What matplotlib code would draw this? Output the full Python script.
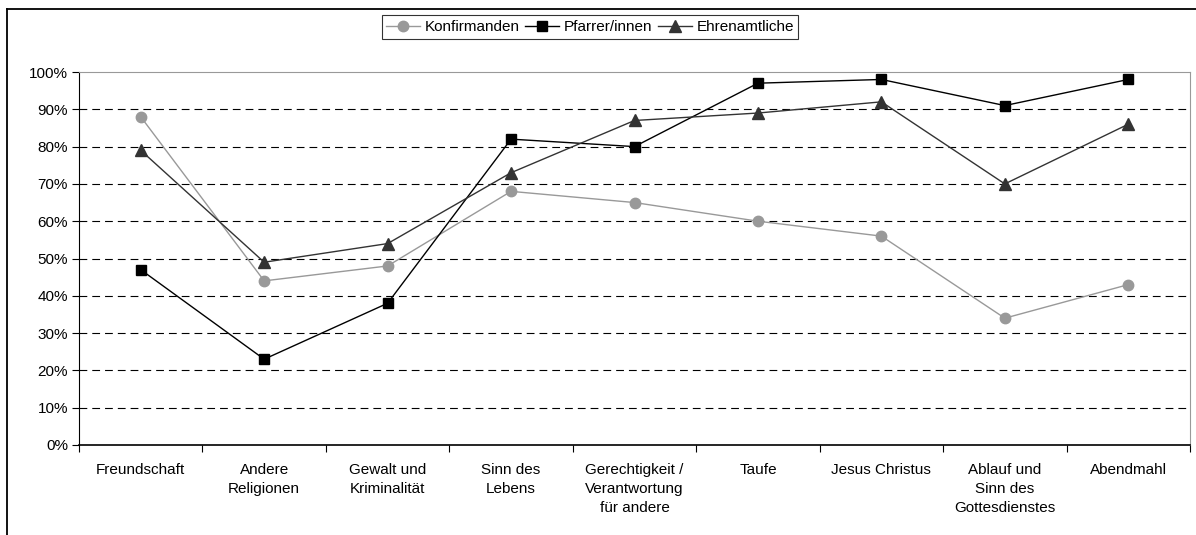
import matplotlib
matplotlib.use("Agg")
from matplotlib import pyplot as plt
from matplotlib.lines import Line2D
from matplotlib.ticker import FixedLocator, PercentFormatter

plt.rcParams['font.family'] = ['Liberation Sans', 'DejaVu Sans']

categories = ["Freundschaft", "Andere\nReligionen", "Gewalt und\nKriminalität", "Sinn des\nLebens",
              "Gerechtigkeit /\nVerantwortung\nfür andere", "Taufe", "Jesus Christus",
              "Ablauf und\nSinn des\nGottesdienstes", "Abendmahl"]
konfirmanden = [88, 44, 48, 68, 65, 60, 56, 34, 43]
pfarrer = [47, 23, 38, 82, 80, 97, 98, 91, 98]
ehrenamtliche = [79, 49, 54, 73, 87, 89, 92, 70, 86]
y_ticks = [0, 10, 20, 30, 40, 50, 60, 70, 80, 90, 100]

fig = plt.figure(figsize=(11.96, 5.35), dpi=100)
ax = fig.add_axes([79 / 1196, 1 - 445 / 535, (1190 - 79) / 1196, (445 - 72) / 535])

x = list(range(len(categories)))
ax.plot(x, konfirmanden, color='#999999', lw=1, marker='o', ms=7.5, mfc='#999999', mec='#999999',
        label='Konfirmanden')
ax.plot(x, pfarrer, color='black', lw=1, marker='s', ms=7.5, mfc='black', mec='black',
        label='Pfarrer/innen')
ax.plot(x, ehrenamtliche, color='#333333', lw=1, marker='^', ms=8.5, mfc='#333333', mec='#333333',
        label='Ehrenamtliche')

ax.set_xlim(-0.5, len(categories) - 0.5)
ax.set_ylim(0, 100)
ax.set_yticks(y_ticks)
ax.yaxis.set_major_formatter(PercentFormatter(decimals=0))
ax.set_xticks(x)
ax.set_xticklabels(categories, fontsize=11, linespacing=1.45, va='top')
ax.tick_params(axis='x', which='major', length=0, pad=13)
ax.xaxis.set_minor_locator(FixedLocator([i + 0.5 for i in range(-1, len(categories))]))
ax.tick_params(axis='x', which='minor', length=5, width=0.8, direction='out')
ax.tick_params(axis='y', length=5, width=0.8, labelsize=11, pad=3)

for v in y_ticks[1:-1]:
    ax.axhline(v, color='black', lw=0.8, ls=(0, (7, 4.5)), zorder=0)

ax.spines['left'].set_color('black')
ax.spines['bottom'].set_color('black')
ax.spines['bottom'].set_linewidth(1.2)
ax.spines['top'].set_color('#999999')
ax.spines['right'].set_color('#999999')

leg = ax.legend(loc='center', bbox_to_anchor=(590 / 1196, 1 - 27 / 535), bbox_transform=fig.transFigure,
                ncol=3, frameon=True, fancybox=False, edgecolor='black', fontsize=11,
                handlelength=2.2, handletextpad=0.3, columnspacing=0.4, borderpad=0.3)
leg.get_frame().set_linewidth(0.8)

# outer chart border (left and top visible)
fig.add_artist(Line2D([7 / 1196, 7 / 1196], [0, 1 - 9 / 535], transform=fig.transFigure, color='black', lw=1.3))
fig.add_artist(Line2D([7 / 1196, 1], [1 - 9 / 535, 1 - 9 / 535], transform=fig.transFigure, color='black', lw=1.3))

plt.savefig('out.png', dpi=100)
plt.close()
